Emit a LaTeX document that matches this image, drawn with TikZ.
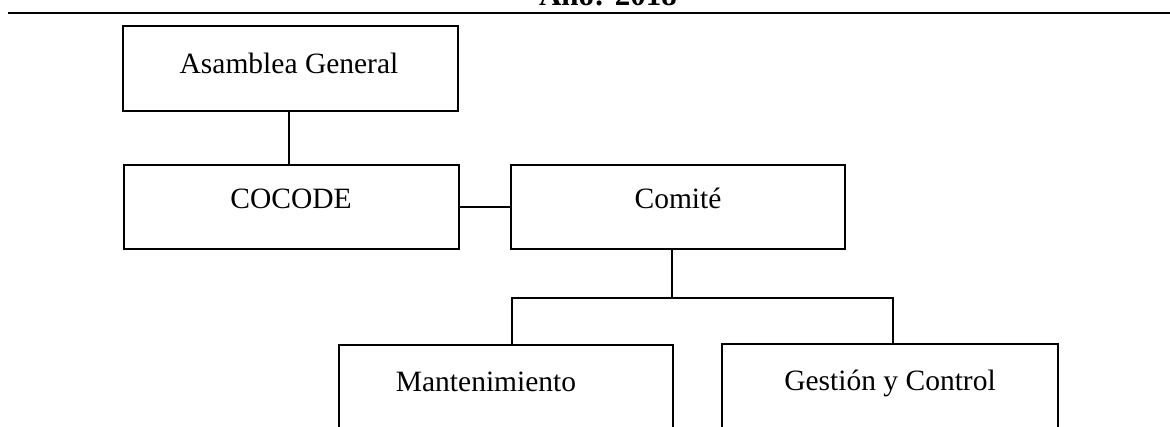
\documentclass[tikz,border=0pt]{standalone}
\usepackage{fontspec}
\setmainfont{Liberation Serif}
\begin{document}
\begin{tikzpicture}[x=1pt,y=-1pt,
  box/.style={draw,line width=1.8pt,minimum width=335pt,minimum height=85pt,inner sep=0pt},
  lbl/.style={anchor=base,inner sep=0pt,font=\fontsize{29.5}{33}\selectfont},
  conn/.style={line width=1.8pt}]
\useasboundingbox (0,0) rectangle (1170,426);
% header
\node[anchor=base,inner sep=0pt,font=\fontsize{31}{34}\selectfont\bfseries] (title) at (608,5) {Año: 2018};
\coordinate (rl) at (8,13);
\coordinate (rr) at (1170,13);
\draw[line width=2.5pt] (rl) -- (rr);
% boxes
\node[box] (A) at (290.5,68.5) {};
\node[box,minimum height=84pt] (C) at (291.5,207) {};
\node[box,minimum width=334pt,minimum height=84pt] (K) at (678,207) {};
\node[box,minimum width=334pt] (M) at (506,387.5) {};
\node[box,minimum width=336pt] (G) at (890,386.5) {};
% labels
\node[lbl] (tA) at (289,73) {Asamblea General};
\node[lbl] (tC) at (291,208) {COCODE};
\node[lbl] (tK) at (678,208) {Comité};
\node[lbl] (tM) at (486,391) {Mantenimiento};
\node[lbl] (tG) at (890,390) {Gestión y Control};
% connectors
\draw[conn] (A.south -| 289,0) -- (C.north -| 289,0);
\draw[conn] (C.east) -- (K.west);
\coordinate (bus) at (672,298);
\coordinate (busL) at (512,298);
\coordinate (busR) at (893,298);
\draw[conn] (K.south -| bus) -- (bus);
\draw[conn] (M.north -| busL) -- (busL) -- (busR) -- (G.north -| busR);
\end{tikzpicture}
\end{document}
